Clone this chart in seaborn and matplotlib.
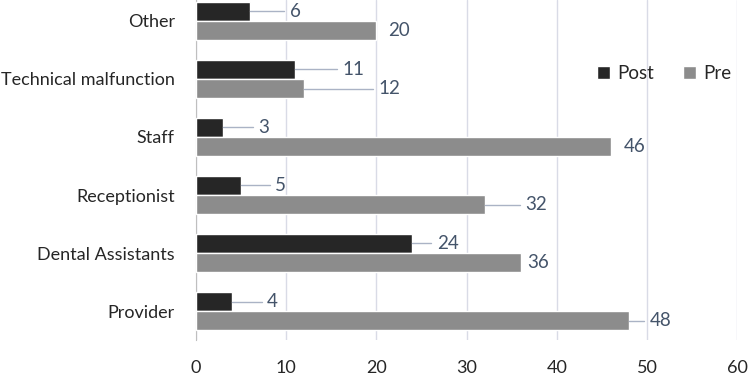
import pandas as pd
import matplotlib.pyplot as plt
import seaborn as sns

# --- data ---
categories = ['Other', 'Technical malfunction', 'Staff', 'Receptionist',
              'Dental Assistants', 'Provider']
post_values = [6, 11, 3, 5, 24, 4]
pre_values = [20, 12, 46, 32, 36, 48]

# label offsets (data units past bar end) -- mimics the dragged Excel labels
post_label_gap = [4.4, 5.3, 3.9, 3.8, 2.7, 3.9]
pre_label_gap = [1.3, 8.2, 1.4, 4.5, 0.7, 2.3]

sns.set_style('white')
plt.rcParams['font.family'] = ['Lato', 'DejaVu Sans']

df = pd.DataFrame({
    'category': categories * 2,
    'value': post_values + pre_values,
    'series': ['Post'] * len(categories) + ['Pre'] * len(categories),
})

fig = plt.figure(figsize=(7.5, 3.75), dpi=100)
ax = fig.add_axes([0.261, 0.093, 0.722, 0.907])

colors = {'Post': '#262626', 'Pre': '#8c8c8c'}
sns.barplot(data=df, y='category', x='value', hue='series',
            hue_order=['Post', 'Pre'], order=categories, palette=colors,
            orient='h', width=0.66, ax=ax, zorder=3)

ax.set_xlim(0, 60)
ax.set_ylim(5.5, -0.36)
ax.set_xticks(range(0, 61, 10))
ax.grid(axis='x', color='#d9dbe6', lw=1, zorder=0)
ax.grid(axis='y', visible=False)
for s in ['top', 'right', 'bottom']:
    ax.spines[s].set_visible(False)
ax.spines['left'].set_color('#bfbfbf')
ax.tick_params(axis='x', labelsize=13, pad=14, length=0)
ax.tick_params(axis='y', labelsize=13, pad=15, length=0)
ax.set_xlabel('')
ax.set_ylabel('')

# value labels with leader lines
lab_col = '#44546a'
line_col = '#aab3c5'
for series, vals, gaps in [('Post', post_values, post_label_gap),
                           ('Pre', pre_values, pre_label_gap)]:
    off = -0.165 if series == 'Post' else 0.165
    for i, (v, g) in enumerate(zip(vals, gaps)):
        yy = i + off
        if g > 1.6:
            ax.plot([v, v + g - 0.6], [yy, yy], color=line_col, lw=1,
                    zorder=4, clip_on=False)
        ax.text(v + g, yy, str(v), va='center', ha='left', fontsize=13.5,
                color=lab_col, zorder=5)

leg = ax.legend(loc='center', bbox_to_anchor=(0.865, 0.785), ncol=2,
                frameon=False, fontsize=13.5, handlelength=0.7,
                handleheight=0.7, handletextpad=0.4, columnspacing=1.5)

fig.savefig('out.png', dpi=100)
